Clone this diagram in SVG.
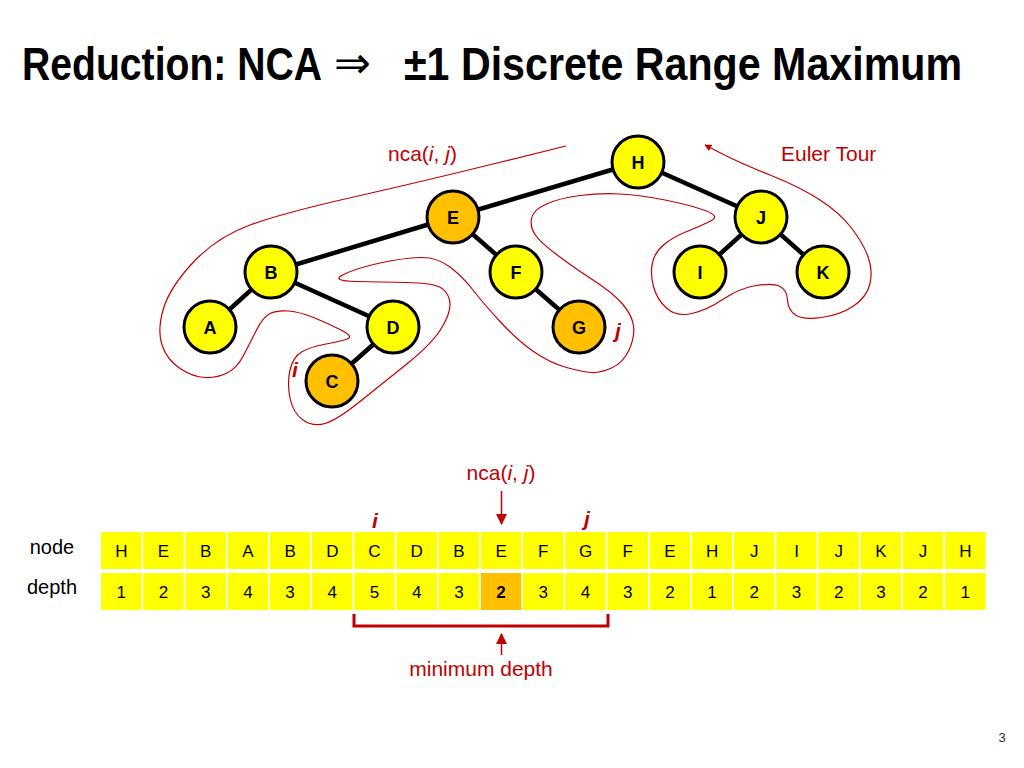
<svg xmlns="http://www.w3.org/2000/svg" width="1024" height="768" viewBox="0 0 1024 768">
<style>
.title{font-family:"Liberation Sans",Arial,sans-serif;font-weight:bold;font-size:46px;fill:#000}
.nd circle{stroke:#000;stroke-width:3}
.y{fill:#FFFF00}.o{fill:#FFC000}
.nl{font-family:"Liberation Sans",Arial,sans-serif;font-weight:bold;font-size:18px;fill:#000;text-anchor:middle}
.edge{stroke:#000;stroke-width:4.5;fill:none}
.red{font-family:"Liberation Sans",Arial,sans-serif;font-size:21px;fill:#C00000}
.ri{font-family:"Liberation Sans",Arial,sans-serif;font-size:21px;font-weight:bold;font-style:italic;fill:#C00000}
.cell{fill:#FFFF00}
.ct{font-family:"Liberation Sans",Arial,sans-serif;font-size:17px;fill:#000;text-anchor:middle}
.lbl{font-family:"Liberation Sans",Arial,sans-serif;font-size:20px;fill:#000;text-anchor:middle}
.rl{stroke:#C00000;fill:none}
</style>
<defs>
<marker id="ah" viewBox="0 0 10 10" refX="9" refY="5" markerWidth="7" markerHeight="7" orient="auto" markerUnits="userSpaceOnUse"><path d="M0,0 L10,5 L0,10 Z" fill="#C00000"/></marker>
<marker id="ah2" viewBox="0 0 10 10" refX="9" refY="5" markerWidth="11" markerHeight="11" orient="auto" markerUnits="userSpaceOnUse"><path d="M0,0 L10,5 L0,10 Z" fill="#C00000"/></marker>
</defs>
<rect width="1024" height="768" fill="#fff"/>
<g id="title">
<text class="title" x="22" y="80" textLength="300" lengthAdjust="spacingAndGlyphs">Reduction: NCA</text>
<text x="334" y="78" font-family="DejaVu Sans,sans-serif" font-size="44" fill="#000">⇒</text>
<text class="title" x="404" y="80" textLength="558" lengthAdjust="spacingAndGlyphs">±1 Discrete Range Maximum</text>
</g>
<g id="connectors">
<line class="edge" x1="638" y1="162" x2="453" y2="217"/>
<line class="edge" x1="453" y1="217" x2="271" y2="272"/>
<line class="edge" x1="453" y1="217" x2="516" y2="272"/>
<line class="edge" x1="271" y1="272" x2="210" y2="327"/>
<line class="edge" x1="271" y1="272" x2="393" y2="327"/>
<line class="edge" x1="393" y1="327" x2="332" y2="381"/>
<line class="edge" x1="516" y1="272" x2="579" y2="327"/>
<line class="edge" x1="638" y1="162" x2="761" y2="217"/>
<line class="edge" x1="761" y1="217" x2="700" y2="272"/>
<line class="edge" x1="761" y1="217" x2="823" y2="272"/>
<path id="euler" class="rl" stroke-width="1.2" marker-end="url(#ah)" d="M566,146 L493,164 Q420,182 351.5,197.5 Q283,213 250,225 Q217,237 193.5,262 Q170,287 163.5,308.5 Q157,330 162,345 Q167,360 180,368.5 Q193,377 205,377.5 Q217,378 227,373 Q237,368 243.5,355.5 Q250,343 256.5,330 Q263,317 270,313.5 Q277,310 288.5,311 Q300,312 313.5,317.5 Q327,323 341,330 Q355,337 346,339.5 Q337,342 323.5,344.5 Q310,347 301.5,352 Q293,357 290,370 Q287,383 290,398 Q293,413 303,420 Q313,427 325,423.5 Q337,420 360,401.5 Q383,383 408,363 Q433,343 442.5,326.5 Q452,310 449.5,300 Q447,290 438.5,286.5 Q430,283 406.5,282.5 Q383,282 356.5,281.5 Q330,281 343.5,274.5 Q357,268 380,263 Q403,258 420,257.5 Q437,257 450,267 Q463,277 473,290 Q483,303 500,321.5 Q517,340 533.5,351.5 Q550,363 566.5,367.5 Q583,372 591.5,372.5 Q600,373 611.5,368 Q623,363 629,350 Q635,337 633.5,326 Q632,315 622.5,304 Q613,293 593,280 Q573,267 556.5,254.5 Q540,242 535,234.5 Q530,227 531.5,218.5 Q533,210 546.5,204 Q560,198 580,195.5 Q600,193 620,194 Q640,195 665,200 Q690,205 705,210.5 Q720,216 711.5,220.5 Q703,225 688,231 Q673,237 664,244.5 Q655,252 652.5,262.5 Q650,273 653.5,286.5 Q657,300 667,308.5 Q677,317 692,313.5 Q707,310 723.5,299 Q740,288 756.5,285.5 Q773,283 780,286.5 Q787,290 787.5,300 Q788,310 795.5,315 Q803,320 821.5,317.5 Q840,315 853.5,306 Q867,297 870,283.5 Q873,270 868,256.5 Q863,243 851.5,228 Q840,213 820,200 Q800,187 770,175 Q740,163 722.5,154 L705,145"/>
<line class="rl" stroke-width="1.5" x1="501.5" y1="491" x2="501.5" y2="524" marker-end="url(#ah2)"/>
<line class="rl" stroke-width="1.5" x1="501.5" y1="655" x2="501.5" y2="634" marker-end="url(#ah2)"/>
<path id="bracket" class="rl" stroke-width="3" d="M354,614 L354,626 L608,626 L608,614"/>
</g>
<g id="node-H" class="nd"><circle class="y" cx="638" cy="162" r="26"/><text class="nl" x="638" y="168.5">H</text></g>
<g id="node-E" class="nd"><circle class="o" cx="453" cy="217" r="26"/><text class="nl" x="453" y="223.5">E</text></g>
<g id="node-J" class="nd"><circle class="y" cx="761" cy="217" r="26"/><text class="nl" x="761" y="223.5">J</text></g>
<g id="node-B" class="nd"><circle class="y" cx="271" cy="272" r="26"/><text class="nl" x="271" y="278.5">B</text></g>
<g id="node-F" class="nd"><circle class="y" cx="516" cy="272" r="26"/><text class="nl" x="516" y="278.5">F</text></g>
<g id="node-I" class="nd"><circle class="y" cx="700" cy="272" r="26"/><text class="nl" x="700" y="278.5">I</text></g>
<g id="node-K" class="nd"><circle class="y" cx="823" cy="272" r="26"/><text class="nl" x="823" y="278.5">K</text></g>
<g id="node-A" class="nd"><circle class="y" cx="210" cy="327" r="26"/><text class="nl" x="210" y="333.5">A</text></g>
<g id="node-D" class="nd"><circle class="y" cx="393" cy="327" r="26"/><text class="nl" x="393" y="333.5">D</text></g>
<g id="node-G" class="nd"><circle class="o" cx="579" cy="327" r="26"/><text class="nl" x="579" y="333.5">G</text></g>
<g id="node-C" class="nd"><circle class="o" cx="332" cy="381" r="26"/><text class="nl" x="332" y="387.5">C</text></g>
<g id="tree-labels">
<text class="red" x="388" y="161">nca(<tspan font-style="italic">i</tspan>, <tspan font-style="italic">j</tspan>)</text>
<text class="red" x="781" y="161" font-size="20">Euler Tour</text>
<text class="ri" x="292" y="377">i</text>
<text class="ri" x="615" y="338">j</text>
</g>
<g id="array">
<text class="lbl" x="52" y="554">node</text>
<text class="lbl" x="52" y="594">depth</text>
<g id="row-node">
<rect class="cell" x="101" y="532" width="40.5" height="37"/><rect class="cell" x="143.2" y="532" width="40.5" height="37"/><rect class="cell" x="185.4" y="532" width="40.5" height="37"/><rect class="cell" x="227.6" y="532" width="40.5" height="37"/><rect class="cell" x="269.8" y="532" width="40.5" height="37"/><rect class="cell" x="312" y="532" width="40.5" height="37"/><rect class="cell" x="354.2" y="532" width="40.5" height="37"/><rect class="cell" x="396.4" y="532" width="40.5" height="37"/><rect class="cell" x="438.6" y="532" width="40.5" height="37"/><rect class="cell" x="480.8" y="532" width="40.5" height="37"/><rect class="cell" x="523" y="532" width="40.5" height="37"/><rect class="cell" x="565.2" y="532" width="40.5" height="37"/><rect class="cell" x="607.4" y="532" width="40.5" height="37"/><rect class="cell" x="649.6" y="532" width="40.5" height="37"/><rect class="cell" x="691.8" y="532" width="40.5" height="37"/><rect class="cell" x="734" y="532" width="40.5" height="37"/><rect class="cell" x="776.2" y="532" width="40.5" height="37"/><rect class="cell" x="818.4" y="532" width="40.5" height="37"/><rect class="cell" x="860.6" y="532" width="40.5" height="37"/><rect class="cell" x="902.8" y="532" width="40.5" height="37"/><rect class="cell" x="945" y="532" width="40.5" height="37"/>
<text class="ct" y="556.5"><tspan x="121.3">H</tspan><tspan x="163.5">E</tspan><tspan x="205.7">B</tspan><tspan x="247.9">A</tspan><tspan x="290.1">B</tspan><tspan x="332.3">D</tspan><tspan x="374.5">C</tspan><tspan x="416.7">D</tspan><tspan x="458.9">B</tspan><tspan x="501.1">E</tspan><tspan x="543.3">F</tspan><tspan x="585.5">G</tspan><tspan x="627.7">F</tspan><tspan x="669.9">E</tspan><tspan x="712.1">H</tspan><tspan x="754.3">J</tspan><tspan x="796.5">I</tspan><tspan x="838.7">J</tspan><tspan x="880.9">K</tspan><tspan x="923.1">J</tspan><tspan x="965.3">H</tspan></text>
</g>
<g id="row-depth">
<rect class="cell" x="101" y="573" width="40.5" height="37"/><rect class="cell" x="143.2" y="573" width="40.5" height="37"/><rect class="cell" x="185.4" y="573" width="40.5" height="37"/><rect class="cell" x="227.6" y="573" width="40.5" height="37"/><rect class="cell" x="269.8" y="573" width="40.5" height="37"/><rect class="cell" x="312" y="573" width="40.5" height="37"/><rect class="cell" x="354.2" y="573" width="40.5" height="37"/><rect class="cell" x="396.4" y="573" width="40.5" height="37"/><rect class="cell" x="438.6" y="573" width="40.5" height="37"/><rect fill="#FFC000" x="480.8" y="573" width="40.5" height="37"/><rect class="cell" x="523" y="573" width="40.5" height="37"/><rect class="cell" x="565.2" y="573" width="40.5" height="37"/><rect class="cell" x="607.4" y="573" width="40.5" height="37"/><rect class="cell" x="649.6" y="573" width="40.5" height="37"/><rect class="cell" x="691.8" y="573" width="40.5" height="37"/><rect class="cell" x="734" y="573" width="40.5" height="37"/><rect class="cell" x="776.2" y="573" width="40.5" height="37"/><rect class="cell" x="818.4" y="573" width="40.5" height="37"/><rect class="cell" x="860.6" y="573" width="40.5" height="37"/><rect class="cell" x="902.8" y="573" width="40.5" height="37"/><rect class="cell" x="945" y="573" width="40.5" height="37"/>
<text class="ct" y="597.5"><tspan x="121.3">1</tspan><tspan x="163.5">2</tspan><tspan x="205.7">3</tspan><tspan x="247.9">4</tspan><tspan x="290.1">3</tspan><tspan x="332.3">4</tspan><tspan x="374.5">5</tspan><tspan x="416.7">4</tspan><tspan x="458.9">3</tspan><tspan x="501.1" font-weight="bold">2</tspan><tspan x="543.3">3</tspan><tspan x="585.5">4</tspan><tspan x="627.7">3</tspan><tspan x="669.9">2</tspan><tspan x="712.1">1</tspan><tspan x="754.3">2</tspan><tspan x="796.5">3</tspan><tspan x="838.7">2</tspan><tspan x="880.9">3</tspan><tspan x="923.1">2</tspan><tspan x="965.3">1</tspan></text>
</g>
<text class="red" x="501" y="480" text-anchor="middle">nca(<tspan font-style="italic">i</tspan>, <tspan font-style="italic">j</tspan>)</text>
<text class="ri" x="375" y="528" text-anchor="middle">i</text>
<text class="ri" x="587" y="526" text-anchor="middle">j</text>
<text class="red" x="481" y="676" text-anchor="middle" font-size="22">minimum depth</text>
</g>
<text x="1002" y="742" font-family="Liberation Sans,Arial,sans-serif" font-size="13" fill="#333" text-anchor="middle">3</text>
</svg>
